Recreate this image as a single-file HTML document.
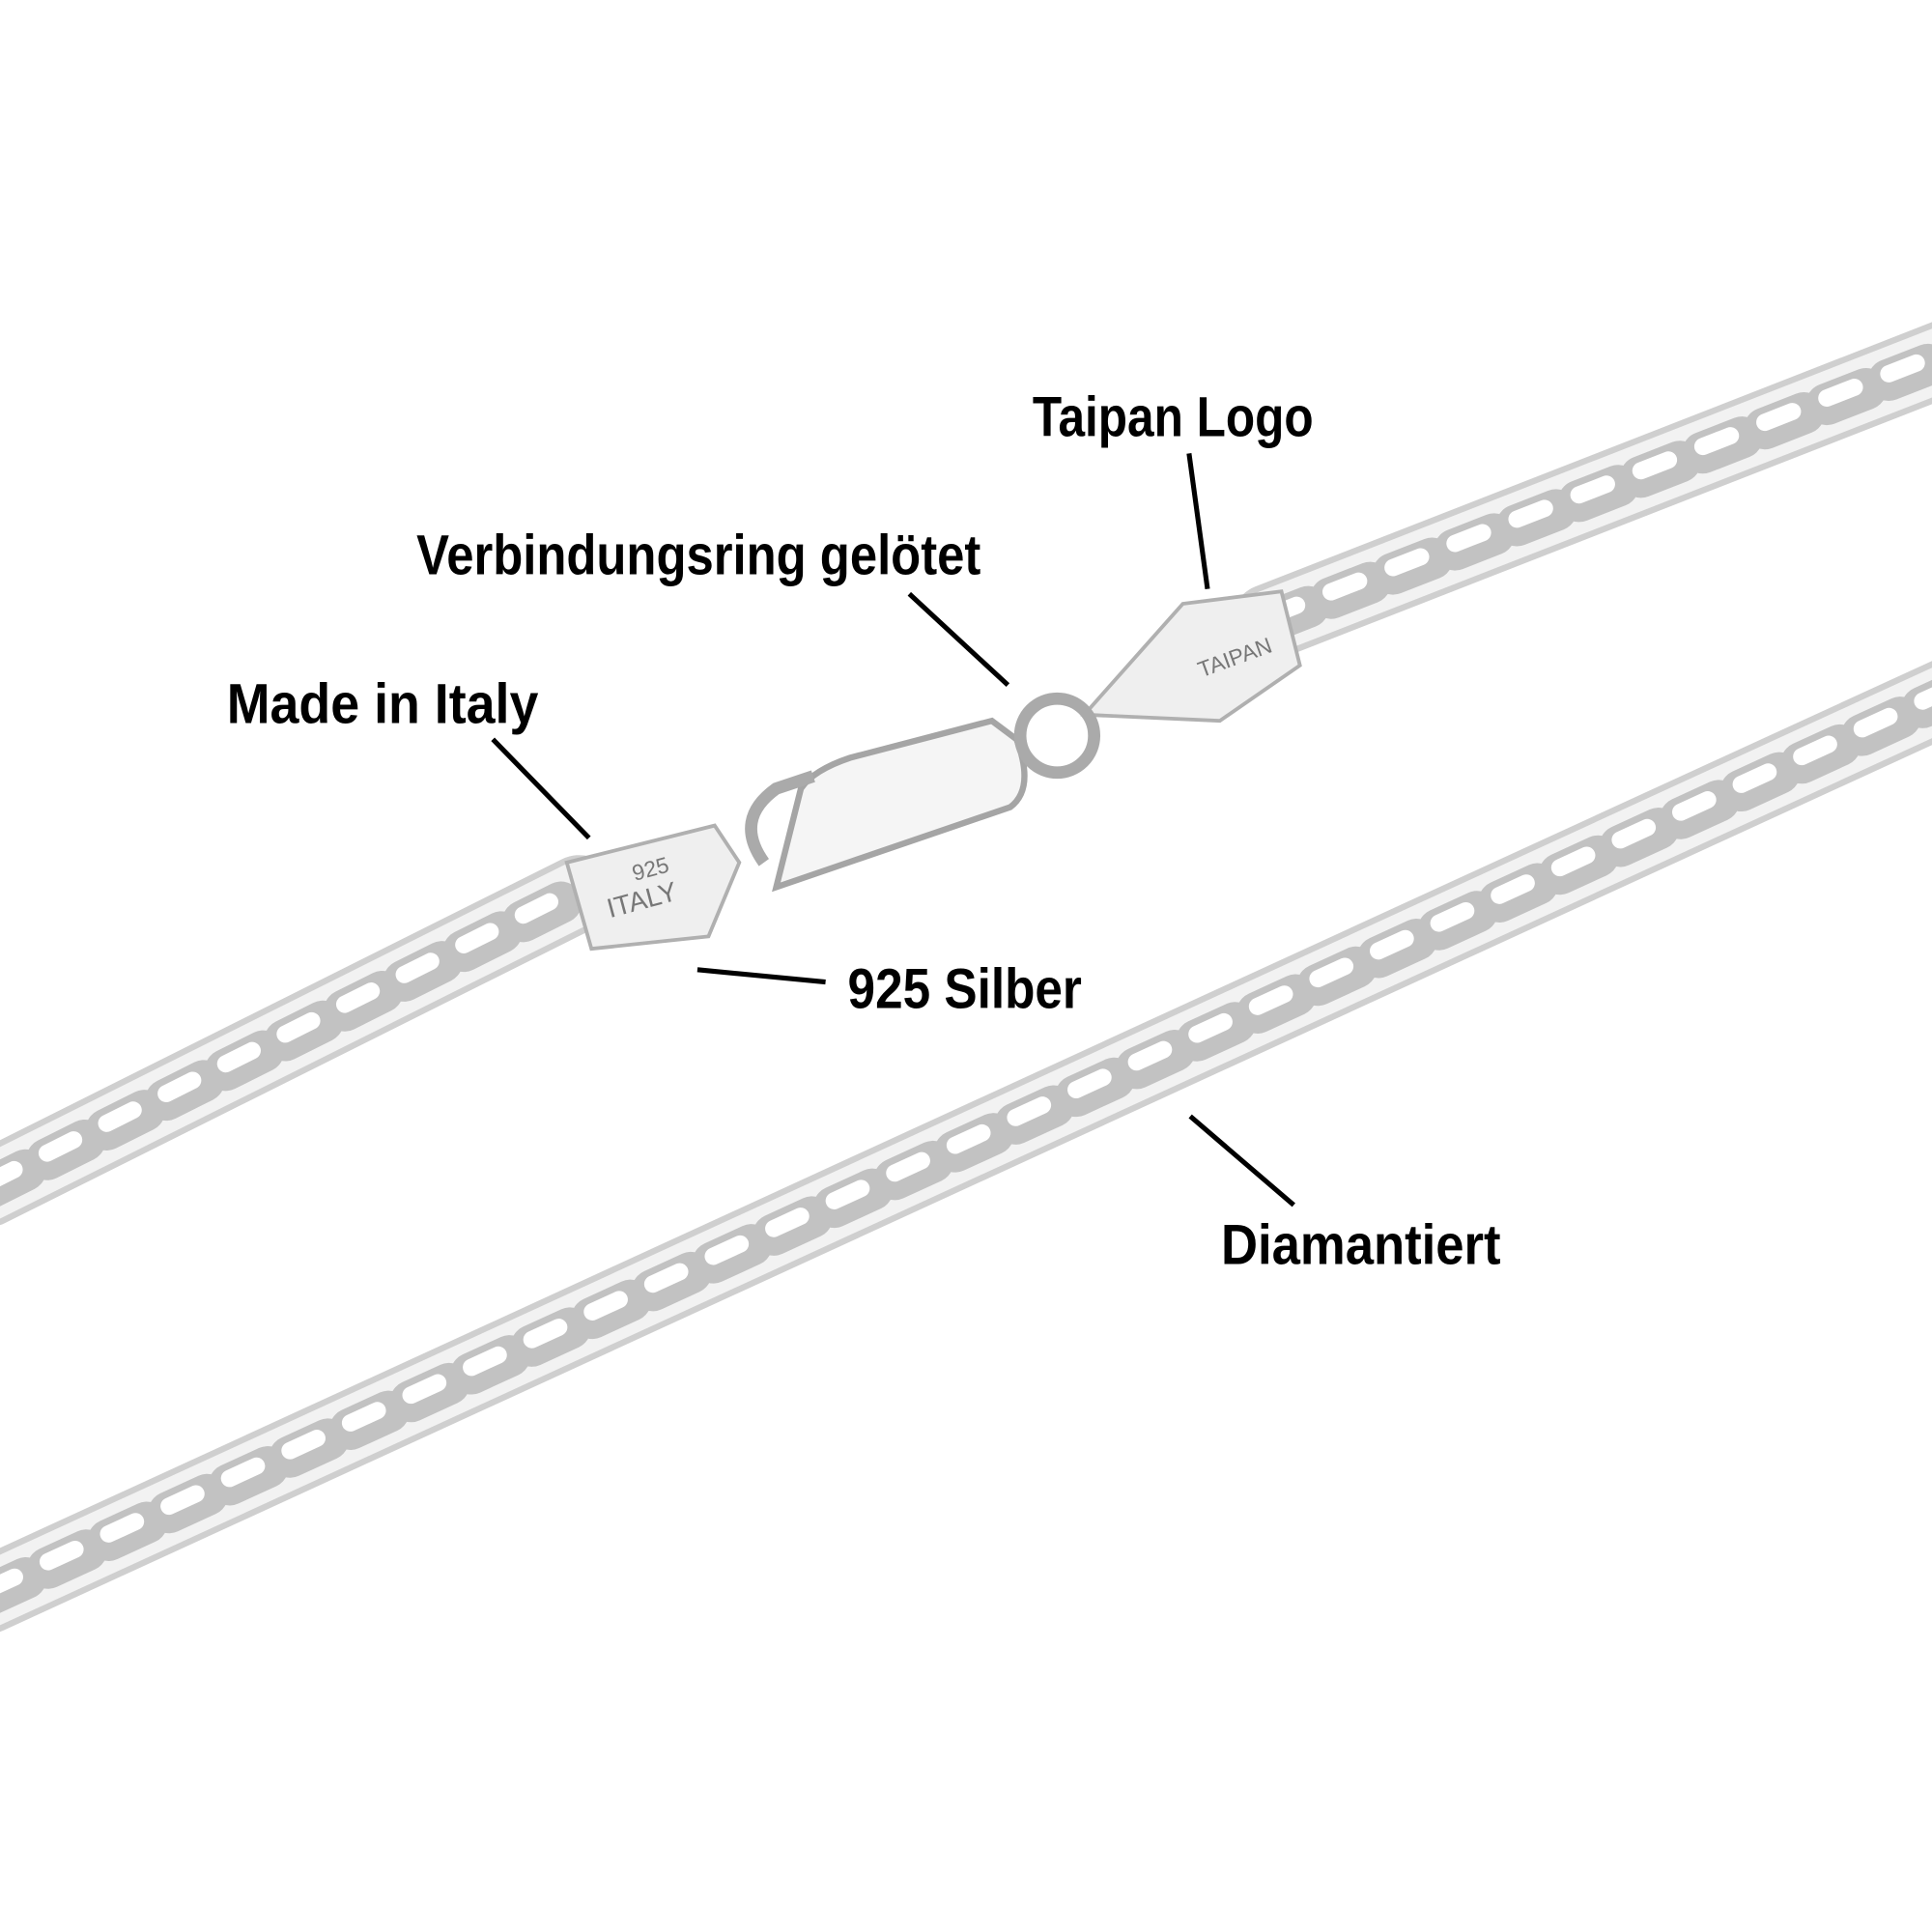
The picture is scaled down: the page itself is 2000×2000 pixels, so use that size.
<!DOCTYPE html>
<html><head><meta charset="utf-8"><style>
html,body{margin:0;padding:0;background:#fff;}
svg{display:block}
text{font-family:"Liberation Sans Narrow","Liberation Sans",sans-serif;font-weight:bold;font-size:46px;fill:#000;}
</style></head><body>
<svg width="2000" height="2000" viewBox="0 0 1568 1568" xmlns="http://www.w3.org/2000/svg">
<rect width="1568" height="1568" fill="#fff"/>
<g fill="none" stroke-linecap="round">
  <path d="M-10 965 L470 725" stroke="#cfcfcf" stroke-width="62"/>
  <path d="M-10 965 L470 725" stroke="#f2f2f2" stroke-width="52"/>
  <path d="M-10 965 L470 725" stroke="#c2c2c2" stroke-width="34" stroke-dasharray="34 20"/>
  <path d="M-10 960 L470 720" stroke="#ffffff" stroke-width="14" stroke-dasharray="24 30"/>
  <path d="M1030 505 L1580 290" stroke="#cfcfcf" stroke-width="62"/>
  <path d="M1030 505 L1580 290" stroke="#f2f2f2" stroke-width="52"/>
  <path d="M1030 505 L1580 290" stroke="#c2c2c2" stroke-width="34" stroke-dasharray="34 20"/>
  <path d="M1030 500 L1580 285" stroke="#ffffff" stroke-width="14" stroke-dasharray="24 30"/>
  <path d="M-10 1295 L1580 565" stroke="#cfcfcf" stroke-width="62"/>
  <path d="M-10 1295 L1580 565" stroke="#f2f2f2" stroke-width="52"/>
  <path d="M-10 1295 L1580 565" stroke="#c2c2c2" stroke-width="34" stroke-dasharray="34 20"/>
  <path d="M-10 1290 L1580 560" stroke="#ffffff" stroke-width="14" stroke-dasharray="24 30"/>
</g>
<path d="M460 700 L580 670 L600 700 L575 760 L480 770 Z" fill="#efefef" stroke="#b0b0b0" stroke-width="3"/>
<text x="515" y="715" transform="rotate(-15 515 715)" style="font-size:18px;font-weight:normal;fill:#777">925</text>
<text x="495" y="745" transform="rotate(-15 495 745)" style="font-size:22px;font-weight:normal;fill:#777">ITALY</text>
<path d="M880 580 L960 490 L1040 480 L1055 540 L990 585 Z" fill="#efefef" stroke="#b0b0b0" stroke-width="3"/>
<text x="975" y="550" transform="rotate(-20 975 550)" style="font-size:18px;font-weight:normal;fill:#777">TAIPAN</text>
<path d="M630 720 L820 655 Q840 640 825 600 L805 585 L690 615 Q660 625 650 640 Z" fill="#f5f5f5" stroke="#a5a5a5" stroke-width="5"/>
<path d="M620 700 Q595 665 630 640 L660 630" fill="none" stroke="#aaaaaa" stroke-width="10"/>
<circle cx="858" cy="597" r="30" fill="none" stroke="#aaaaaa" stroke-width="10"/>
<g stroke="#000" stroke-width="4" fill="none">
  <line x1="965" y1="368" x2="980" y2="478"/>
  <line x1="738" y1="482" x2="818" y2="556"/>
  <line x1="400" y1="600" x2="478" y2="680"/>
  <line x1="566" y1="787" x2="670" y2="797"/>
  <line x1="966" y1="906" x2="1050" y2="978"/>
</g>
<text x="838" y="354" textLength="228" lengthAdjust="spacingAndGlyphs">Taipan Logo</text>
<text x="338" y="466" textLength="458" lengthAdjust="spacingAndGlyphs">Verbindungsring gelötet</text>
<text x="184" y="587" textLength="253" lengthAdjust="spacingAndGlyphs">Made in Italy</text>
<text x="688" y="818" textLength="190" lengthAdjust="spacingAndGlyphs">925 Silber</text>
<text x="991" y="1026" textLength="227" lengthAdjust="spacingAndGlyphs">Diamantiert</text>
</svg>
</body></html>
